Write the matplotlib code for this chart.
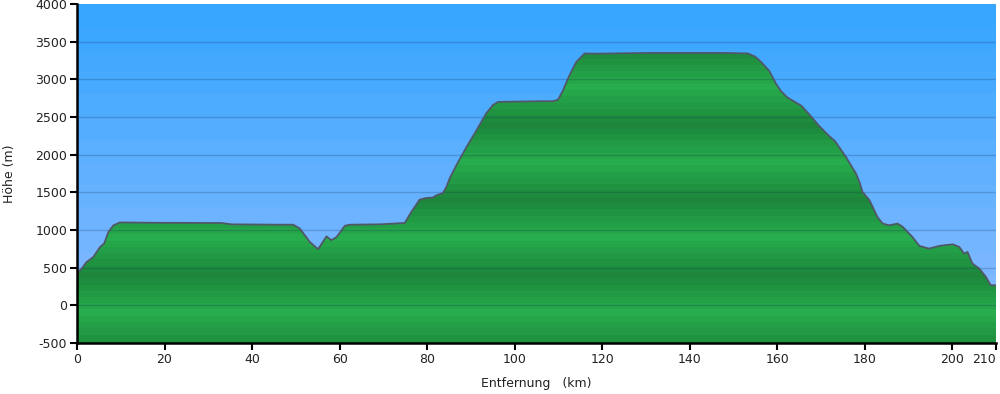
import numpy as np
import matplotlib
matplotlib.use("Agg")
import matplotlib.pyplot as plt
from matplotlib.colors import to_rgb

# ---- data ----
dist_km = [0.0, 1.1, 2.2, 3.7, 5.3, 6.2, 7.2, 8.3, 9.8, 18.6, 33.0, 35.3, 46.3, 49.4,
           50.9, 53.2, 55.1, 57.0, 58.1, 59.3, 61.2, 62.3, 69.2, 74.9, 76.4, 78.3,
           79.8, 81.3, 82.1, 83.6, 84.4, 85.2, 86.7, 89.0, 91.3, 93.5, 95.0, 96.2,
           105.7, 108.7, 109.9, 111.0, 112.2, 113.1, 114.1, 116.0, 117.9, 130.8,
           147.9, 153.3, 155.0, 156.3, 158.2, 159.7, 160.9, 162.3, 164.3,
           165.5, 167.4, 169.6, 172.0, 173.2, 175.7, 178.0, 178.8, 179.5,
           181.1, 182.9, 184.1, 185.6, 187.5, 188.7, 190.9, 192.5, 194.7, 197.0,
           200.1, 201.6, 202.7, 203.5, 204.6, 206.2, 207.7, 208.8, 210.0]
elev_m = [420, 490, 575, 640, 775, 820, 975, 1060, 1100, 1095, 1093, 1075, 1070, 1070,
          1020, 840, 745, 915, 865, 905, 1055, 1070, 1075, 1093, 1240, 1403,
          1425, 1430, 1460, 1490, 1570, 1690, 1860, 2100, 2324, 2546, 2656, 2700,
          2709, 2709, 2728, 2845, 3010, 3120, 3231, 3343, 3340, 3350,
          3350, 3343, 3300, 3231, 3110, 2944, 2840, 2760, 2690,
          2650, 2530, 2380, 2240, 2180, 1969, 1749, 1637, 1505,
          1394, 1173, 1085, 1062, 1085, 1040, 907, 788, 753, 788,
          810, 775, 686, 708, 554, 487, 376, 266, 266]

x_ticks = [0, 20, 40, 60, 80, 100, 120, 140, 160, 180, 200, 210]
y_ticks = [-500, 0, 500, 1000, 1500, 2000, 2500, 3000, 3500, 4000]
x_label = "Entfernung   (km)"
y_label = "Höhe (m)"

XMIN, XMAX = 0, 210
YMIN, YMAX = -500, 4000

fig = plt.figure(figsize=(10.0, 3.94), dpi=100)
ax = fig.add_axes([0.077, 0.1295, 0.919, 0.8604])
ax.set_xlim(XMIN, XMAX)
ax.set_ylim(YMIN, YMAX)

# ---- sky: stepped vertical gradient ----
n = 900
ys = np.linspace(YMAX, YMIN, n)
top = np.array(to_rgb("#36a6ff"))
bot = np.array(to_rgb("#93bdff"))
step = 300.0
q = np.floor((YMAX - ys) / step) * step / (YMAX - YMIN)
sky = top[None, :] * (1 - q[:, None]) + bot[None, :] * q[:, None]
sky_img = np.repeat(sky[:, None, :], 2, axis=1)
ax.imshow(sky_img, extent=[XMIN, XMAX, YMIN, YMAX], aspect="auto",
          interpolation="nearest", zorder=0, origin="upper")

# ---- terrain: banded green, clipped to the profile ----
light = np.array(to_rgb("#27ad4d"))
dark = np.array(to_rgb("#1d863b"))
ph = ((ys + 100) % 1000) / 1000.0
tri = 1 - np.abs(ph - 0.5) * 2            # 1 -> dark (near 400/1400..), 0 -> light
tri = np.round(tri * 6) / 6
grn = light[None, :] * (1 - tri[:, None]) + dark[None, :] * tri[:, None]
grn_img = np.repeat(grn[:, None, :], 2, axis=1)

poly = ax.fill_between(dist_km, elev_m, YMIN, color="none", lw=0, zorder=1)
im = ax.imshow(grn_img, extent=[XMIN, XMAX, YMIN, YMAX], aspect="auto",
               interpolation="nearest", zorder=1, origin="upper")
path = poly.get_paths()[0]
im.set_clip_path(path, transform=ax.transData)

# ---- gridlines ----
for yv in y_ticks[1:-1]:
    ax.axhline(yv, color="#0a2a50", alpha=0.22, lw=1.0, zorder=2)

# ---- outline ----
ax.plot(dist_km, elev_m, color="#505868", lw=1.3, zorder=3)

# ---- axes styling ----
for s in ["top", "right"]:
    ax.spines[s].set_visible(False)
ax.spines["left"].set_linewidth(1.8)
ax.spines["bottom"].set_linewidth(1.8)
ax.spines["left"].set_zorder(5)
ax.spines["bottom"].set_zorder(5)
ax.set_xticks(x_ticks)
ax.set_yticks(y_ticks)
ax.set_xticklabels([str(v) for v in x_ticks])
ax.set_yticklabels([str(v) for v in y_ticks])
ax.tick_params(axis="both", direction="out", length=5, width=1.5, color="black",
               labelsize=9, labelcolor="#222222", pad=2)
lbls = ax.get_xticklabels()
lbls[-1].set_horizontalalignment("right")
lbls[-1].set_x(XMAX)
ax.set_xlabel(x_label, fontsize=9, color="#222222", labelpad=8)
ax.set_ylabel(y_label, fontsize=9, color="#222222", labelpad=14)

fig.savefig("out.png", dpi=100)
